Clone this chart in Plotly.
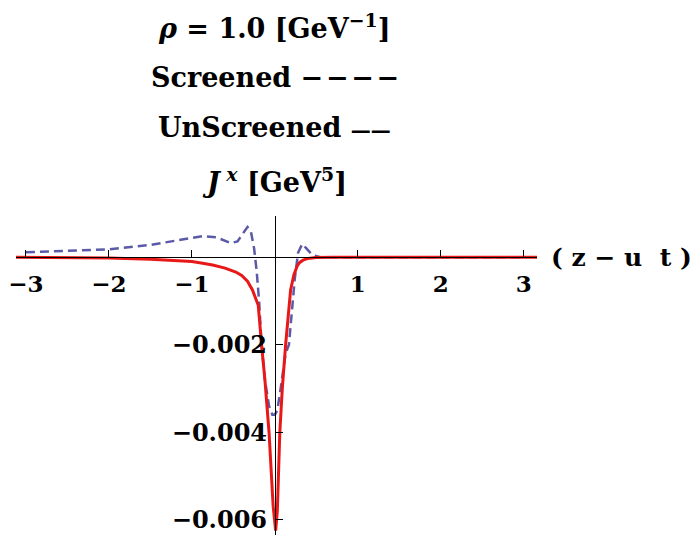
import plotly.graph_objects as go

# ---- data ----
x_unscreened = [-3.12, -2.5, -2.0, -1.5, -1.25, -1.0, -0.87, -0.75, -0.6, -0.47, -0.4, -0.33,
                -0.27, -0.2, -0.16, -0.12, -0.07, -0.04, -0.02, 0.01, 0.03, 0.06, 0.09, 0.13,
                0.16, 0.19, 0.23, 0.27, 0.3, 0.34, 0.4, 0.5, 0.7, 1.0, 2.0, 3.16]
y_unscreened = [-0.000005, -0.00001, -0.00002, -0.00005, -0.00007, -0.0001, -0.00014, -0.00018,
                -0.00025, -0.00034, -0.00042, -0.00055, -0.00075, -0.0011, -0.002, -0.0028,
                -0.004, -0.005, -0.0057, -0.00625, -0.0058, -0.004, -0.003, -0.002,
                -0.0013, -0.00075, -0.0004, -0.0002, -0.00012, -0.00007, -0.00003, -0.00001,
                0.0, 0.0, 0.0, 0.0]

x_screened = [-3.0, -2.5, -2.0, -1.5, -1.25, -1.0, -0.87, -0.7, -0.6, -0.53, -0.45, -0.38,
              -0.33, -0.29, -0.25, -0.22, -0.19, -0.16, -0.12, -0.07, -0.03, 0.0, 0.03, 0.07,
              0.1, 0.13, 0.17, 0.2, 0.24, 0.28, 0.33, 0.38, 0.45, 0.55, 0.7, 1.0, 2.0, 3.0]
y_screened = [0.00011, 0.00014, 0.00018, 0.00028, 0.00036, 0.00045, 0.00048, 0.00045, 0.00038,
              0.00032, 0.00036, 0.00055, 0.00069, 0.0006, 0.0002, -0.0003, -0.001, -0.002,
              -0.0028, -0.0034, -0.0036, -0.0036, -0.0035, -0.003, -0.0026, -0.0022, -0.002,
              -0.0013, -0.0005, 0.0001, 0.0003, 0.0002, 0.00005, 0.0, 0.0, 0.0, 0.0, 0.0]

x_tickvals = [-3, -2, -1, 1, 2, 3]
x_ticktext = ["\u22123", "\u22122", "\u22121", "1", "2", "3"]
y_tickvals = [-0.006, -0.004, -0.002]
y_ticktext = ["\u22120.006", "\u22120.004", "\u22120.002"]

header_lines = [
    "<i>\u03c1</i> = 1.0 [GeV<sup>\u22121</sup>]",
    "Screened \u2212\u200a\u2212\u200a\u2212\u200a\u2212",
    "UnScreened <span style='font-size:20px'>\u2014\u2014</span>",
    "<i>J</i><sup> <i>x</i></sup> [GeV<sup>5</sup>]",
]
x_axis_label = "( z \u2212 u  t )"

# ---- layout constants ----
XR = [-3.12, 3.16]
YR = [-0.00635, 0.00094]
FONT = "DejaVu Serif"
fx0 = (0 - XR[0]) / (XR[1] - XR[0])
fy0 = (0 - YR[0]) / (YR[1] - YR[0])

fig = go.Figure()
fig.add_trace(go.Scatter(x=x_screened, y=y_screened, mode="lines",
                         line=dict(color="#5a5aa8", width=2.5, dash="9px,5px"),
                         showlegend=False))
fig.add_trace(go.Scatter(x=x_unscreened, y=y_unscreened, mode="lines",
                         line=dict(color="#e81818", width=3),
                         showlegend=False))

fig.update_layout(
    width=698, height=541,
    margin=dict(l=8, r=169, t=208, b=14, autoexpand=False),
    paper_bgcolor="white", plot_bgcolor="white",
    font=dict(family=FONT, size=24, color="black"),
    xaxis=dict(range=XR, showgrid=False, zeroline=False, showline=True,
               linecolor="black", linewidth=1, anchor="free", position=fy0,
               automargin=False, ticklabeloverflow="allow",
               tickmode="array", tickvals=x_tickvals, ticktext=x_ticktext,
               ticks="inside", ticklen=7, tickcolor="black", tickwidth=1,
               ticklabelstandoff=6,
               tickfont=dict(family=FONT, size=23, weight="bold")),
    yaxis=dict(range=YR, showgrid=False, zeroline=False, showline=True,
               linecolor="black", linewidth=1, anchor="free", position=fx0,
               automargin=False, ticklabeloverflow="allow",
               tickmode="array", tickvals=y_tickvals, ticktext=y_ticktext,
               ticks="inside", ticklen=7, tickcolor="black", tickwidth=1,
               ticklabelstandoff=3,
               tickfont=dict(family=FONT, size=24, weight="bold")),
)

line_y = [27, 77, 127, 180]
for txt, py in zip(header_lines, line_y):
    fig.add_annotation(text="<b>" + txt + "</b>", xref="x", x=0,
                       yref="paper", y=(535 - py) / 319, yanchor="middle",
                       xanchor="center", showarrow=False,
                       font=dict(family=FONT, size=27, color="black"))

fig.add_annotation(text="<b>" + x_axis_label + "</b>", xref="paper", x=1.0, xshift=12,
                   yref="y", y=0, xanchor="left", yanchor="middle", showarrow=False,
                   font=dict(family=FONT, size=25, color="black"))

fig.write_html("out.html")
